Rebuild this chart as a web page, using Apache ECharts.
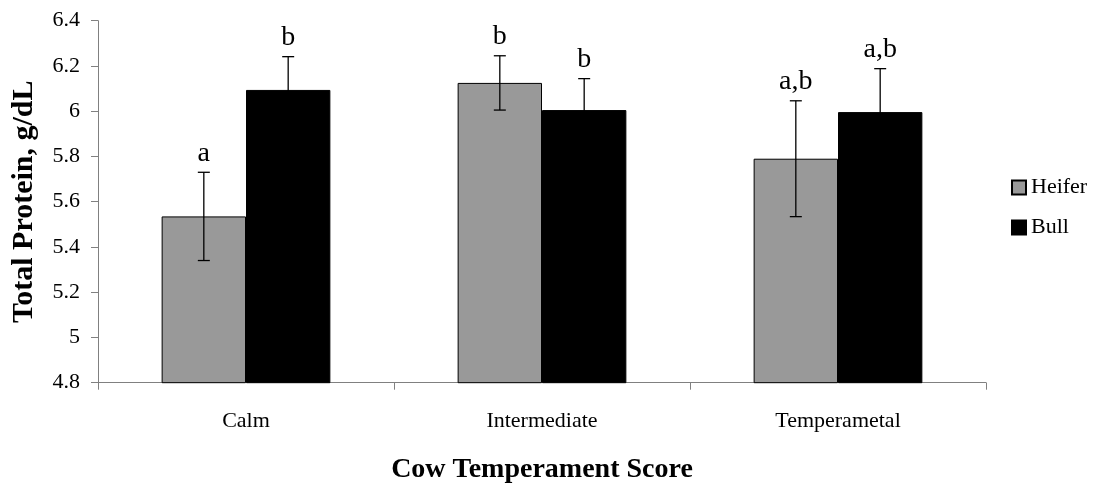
<!DOCTYPE html>
<html>
<head>
<meta charset="utf-8">
<script src="https://cdn.jsdelivr.net/npm/echarts@6/dist/echarts.min.js"></script>
<style>html,body{margin:0;padding:0;background:#fff}#c{width:1093px;height:485px}</style>
</head>
<body>
<div id="c"></div>
<script>
var categories = ['Calm', 'Intermediate', 'Temperametal'];
var seriesNames = ['Heifer', 'Bull'];
var heifer = [5.535, 6.125, 5.79];
var bull = [6.094, 6.005, 5.996];
var heiferErr = [0.195, 0.12, 0.256];
var bullErr = [0.147, 0.139, 0.192];
var heiferSig = ['a', 'b', 'a,b'];
var bullSig = ['b', 'b', 'a,b'];
var yMin = 4.8, yMax = 6.4, yStep = 0.2;

var FONT = '"Liberation Serif", "Times New Roman", serif';
var GAP = 0.43;

var errData = [];
var errLabels = [];
for (var i = 0; i < categories.length; i++) {
  errData.push([i, heifer[i], heiferErr[i], 0]);
  errLabels.push(heiferSig[i]);
  errData.push([i, bull[i], bullErr[i], 1]);
  errLabels.push(bullSig[i]);
}

var chart = echarts.init(document.getElementById('c'), null, {renderer: 'canvas'});
chart.setOption({
  animation: false,
  backgroundColor: '#fff',
  grid: {left: 98, right: 107, top: 20.7, bottom: 102.3, containLabel: false, outerBoundsMode: 'none'},
  legend: {
    orient: 'vertical',
    left: 1006,
    top: 171,
    icon: 'rect',
    itemWidth: 14,
    itemHeight: 14,
    itemGap: 17,
    data: seriesNames,
    textStyle: {fontFamily: FONT, fontSize: 22, color: '#000', lineHeight: 23}
  },
  xAxis: {
    type: 'category',
    data: categories,
    axisLine: {lineStyle: {color: '#808080', width: 1}},
    axisTick: {show: true, length: 7, lineStyle: {color: '#808080'}},
    axisLabel: {fontFamily: FONT, fontSize: 22, color: '#000', margin: 28},
    name: 'Cow Temperament Score',
    nameLocation: 'middle',
    nameGap: 73,
    nameTextStyle: {fontFamily: FONT, fontSize: 28, fontWeight: 'bold', color: '#000'}
  },
  yAxis: {
    type: 'value',
    min: yMin,
    max: yMax,
    interval: yStep,
    splitLine: {show: false},
    axisLine: {show: true, lineStyle: {color: '#808080', width: 1}},
    axisTick: {show: true, length: 7, lineStyle: {color: '#808080'}},
    axisLabel: {fontFamily: FONT, fontSize: 22, color: '#000', margin: 18},
    name: 'Total Protein, g/dL',
    nameLocation: 'middle',
    nameGap: 59,
    nameTextStyle: {fontFamily: FONT, fontSize: 30, fontWeight: 'bold', color: '#000'}
  },
  series: [
    {
      name: seriesNames[0], type: 'bar', data: heifer,
      barGap: '0%', barCategoryGap: (GAP * 100) + '%',
      itemStyle: {color: '#999999', borderColor: '#000', borderWidth: 1}
    },
    {
      name: seriesNames[1], type: 'bar', data: bull,
      barGap: '0%', barCategoryGap: (GAP * 100) + '%',
      itemStyle: {color: '#000000', borderColor: '#000', borderWidth: 1}
    },
    {
      type: 'custom',
      data: errData,
      encode: {x: 0, y: 1},
      silent: true,
      z: 10,
      renderItem: function (params, api) {
        var cat = api.value(0), val = api.value(1), err = api.value(2), s = api.value(3);
        var c = api.coord([cat, val]);
        var catW = api.size([1, 0])[0];
        var barW = catW * (1 - GAP) / 2;
        var x = c[0] + (s === 0 ? -barW / 2 : barW / 2);
        var yTop = api.coord([cat, val + err])[1];
        var yBot = api.coord([cat, val - err])[1];
        var cap = 6;
        var st = {stroke: '#000', lineWidth: 1.3};
        return {
          type: 'group',
          children: [
            {type: 'line', shape: {x1: x, y1: yTop, x2: x, y2: yBot}, style: st},
            {type: 'line', shape: {x1: x - cap, y1: yTop, x2: x + cap, y2: yTop}, style: st},
            {type: 'line', shape: {x1: x - cap, y1: yBot, x2: x + cap, y2: yBot}, style: st},
            {type: 'text', x: x, y: yTop - 5, style: {
              text: errLabels[params.dataIndex], fill: '#000',
              font: '28px ' + FONT, align: 'center', verticalAlign: 'bottom'
            }}
          ]
        };
      }
    }
  ]
});
</script>
</body>
</html>
